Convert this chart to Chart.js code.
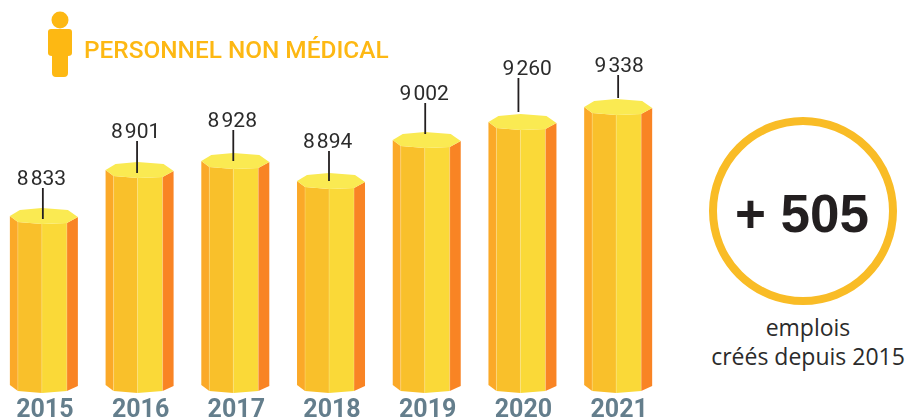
<!DOCTYPE html>
<html lang="fr">
<head>
<meta charset="utf-8">
<title>Personnel non médical</title>
<script src="https://cdn.jsdelivr.net/npm/chart.js@4"></script>
<style>
  html, body { margin: 0; padding: 0; background: #fff; overflow: hidden; }
  body { position: relative; width: 909px; height: 419px; }
  .chart-wrap { position: absolute; left: -4px; top: 0; width: 670px; height: 419px; }
  .person { position: absolute; left: 47px; top: 11px; }
  .title { position: absolute; left: 84px; top: 35px; font: 500 24.4px Roboto, sans-serif; color: #FDB813; white-space: nowrap; }
  .ring { position: absolute; left: 709px; top: 117px; width: 172px; height: 172px; border: 8px solid #F9BC26; border-radius: 50%; }
  .gain { position: absolute; left: 708px; top: 182px; width: 188px; text-align: center; font: bold 53px/64px "Liberation Sans", sans-serif; color: #231F20; white-space: nowrap; }
  .note { position: absolute; left: 698px; top: 313px; width: 220px; text-align: center; font: 23px/29px "Open Sans", sans-serif; color: #2B2B2B; white-space: nowrap; }
</style>
</head>
<body>
<div class="chart-wrap"><canvas id="staffChart"></canvas></div>
<svg class="person" width="26" height="67" viewBox="0 0 26 67">
  <circle cx="13" cy="9" r="8.5" fill="#FDB813"/>
  <path d="M4 18H22Q25 18 25 21V42Q25 45 21 45V62Q21 66 17 66H9Q5 66 5 62V45Q1 45 1 42V21Q1 18 4 18Z" fill="#FDB813"/>
</svg>
<div class="title">PERSONNEL NON MÉDICAL</div>
<div class="ring"></div>
<div class="gain">+ 505</div>
<div class="note">emplois<br>créés depuis 2015</div>

<script>
// ── Data ───────────────────────────────────────────────────
const years  = ['2015','2016','2017','2018','2019','2020','2021'];
const staff  = [8833, 8901, 8928, 8894, 9002, 9260, 9338];

// the original columns are not to scale, so the axis is stepped:
// value -> height in px above the base
const axisValues = [0, 8833, 8894, 8901, 8928, 9002, 9260, 9338];
const axisHeights = [0, 177, 212, 223, 232, 253, 271, 286];

// hand placement of the labels and their ticks, column by column
const labelLift  = [38, 39, 41, 40, 47, 54, 42];
const labelShift = [-2.4, -4, -3, -3.4, -2.5, 4.8, 1];
const tickShift  = [-1, -2.5, -2, -2, -1.5, -4, 0];
const tickDip    = [3, 3, 0, 0, -6, -10, -9];

function lerp(x, xs, ys) {
  if (x <= xs[0]) return ys[0];
  for (let i = 1; i < xs.length; i++) {
    if (x <= xs[i]) return ys[i-1] + (x - xs[i-1]) / (xs[i] - xs[i-1]) * (ys[i] - ys[i-1]);
  }
  return ys[ys.length - 1];
}

class SteppedScale extends Chart.LinearScale {
  getPixelForValue(value) { return this.bottom - lerp(value, axisValues, axisHeights); }
  getValueForPixel(pixel) { return lerp(this.bottom - pixel, axisHeights, axisValues); }
}
SteppedScale.id = 'stepped';
SteppedScale.defaults = {};
Chart.register(SteppedScale);

// ── Column drawing ─────────────────────────────────────────
function poly(ctx, pts, fill) {
  ctx.beginPath();
  pts.forEach((p, i) => i ? ctx.lineTo(p[0], p[1]) : ctx.moveTo(p[0], p[1]));
  ctx.closePath();
  ctx.fillStyle = fill;
  ctx.fill();
}

function drawColumn(ctx, bar) {
  const l = bar.x - bar.width / 2, t = bar.y, b = bar.base;
  const x1 = l + 8, x2 = l + 32, x3 = l + 57, x4 = l + 68;
  const bs = b - 8;  // bottom of the outer faces
  const be = b - 2;  // bottom of the inner edges

  poly(ctx, [[l,t],[x1,t+6],[x1,be],[l,bs]], '#FBA928');
  poly(ctx, [[x1,t+6],[x2,t+8],[x2,b],[x1,be]], '#F9C02B');
  poly(ctx, [[x2,t+8],[x3,t+7],[x3,be],[x2,b]], '#FAD938');
  poly(ctx, [[x3,t+7],[x4,t+1],[x4,bs+1],[x3,be]], '#F98424');
  // lighter seams between the faces
  ctx.strokeStyle = 'rgba(255,240,190,.35)';
  ctx.lineWidth = 0.8;
  [[x1,t+6,be],[x2,t+8,b],[x3,t+7,be]].forEach(s => {
    ctx.beginPath();
    ctx.moveTo(s[0], s[1]);
    ctx.lineTo(s[0], s[2]);
    ctx.stroke();
  });
  poly(ctx, [[l,t],[l+10,t-6],[x2,t-8],[l+58,t-6],[x4,t+1],[x3,t+7],[x2,t+8],[x1,t+6]], '#FAEA52');
}

const prismPlugin = {
  id: 'prism',
  beforeDatasetDraw(chart, args) {
    const ctx = chart.ctx;
    const meta = args.meta;
    meta.data.forEach(bar => drawColumn(ctx, bar));
    ctx.save();
    ctx.textAlign = 'center';
    ctx.textBaseline = 'middle';
    ctx.font = '21px Roboto, sans-serif';
    meta.data.forEach((bar, i) => {
      const labelY = bar.y - labelLift[i];
      const tickX = bar.x + tickShift[i];
      ctx.strokeStyle = '#231F20';
      ctx.lineWidth = 1.8;
      ctx.beginPath();
      ctx.moveTo(tickX, labelY + 10);
      ctx.lineTo(tickX, bar.y + tickDip[i]);
      ctx.stroke();
      ctx.fillStyle = '#2B2B2B';
      ctx.fillText(String(staff[i]).replace(/(\d)(\d{3})$/, '$1\u200a$2'), bar.x + labelShift[i], labelY + 2);
    });
    ctx.restore();
    return false; // columns are painted above, skip the flat bars
  }
};

// ── Chart ──────────────────────────────────────────────────
new Chart(document.getElementById('staffChart'), {
  type: 'bar',
  data: {
    labels: years,
    datasets: [{
      label: 'Personnel non médical',
      data: staff,
      backgroundColor: '#F9C02B',
      barPercentage: 0.71,
      categoryPercentage: 1
    }]
  },
  options: {
    responsive: true,
    maintainAspectRatio: false,
    animation: false,
    layout: { padding: 0 },
    plugins: { legend: { display: false }, tooltip: { enabled: false } },
    scales: {
      x: {
        grid: { display: false, drawTicks: false },
        border: { display: false },
        afterFit: s => { s.height = 26; },
        ticks: {
          color: '#647E8C',
          padding: 3,
          labelOffset: 1,
          maxRotation: 0,
          font: { family: 'Roboto, sans-serif', size: 25, weight: 'bold' }
        }
      },
      y: { type: 'stepped', display: false, min: 0, max: 9500 }
    }
  },
  plugins: [prismPlugin]
});
</script>
</body>
</html>
